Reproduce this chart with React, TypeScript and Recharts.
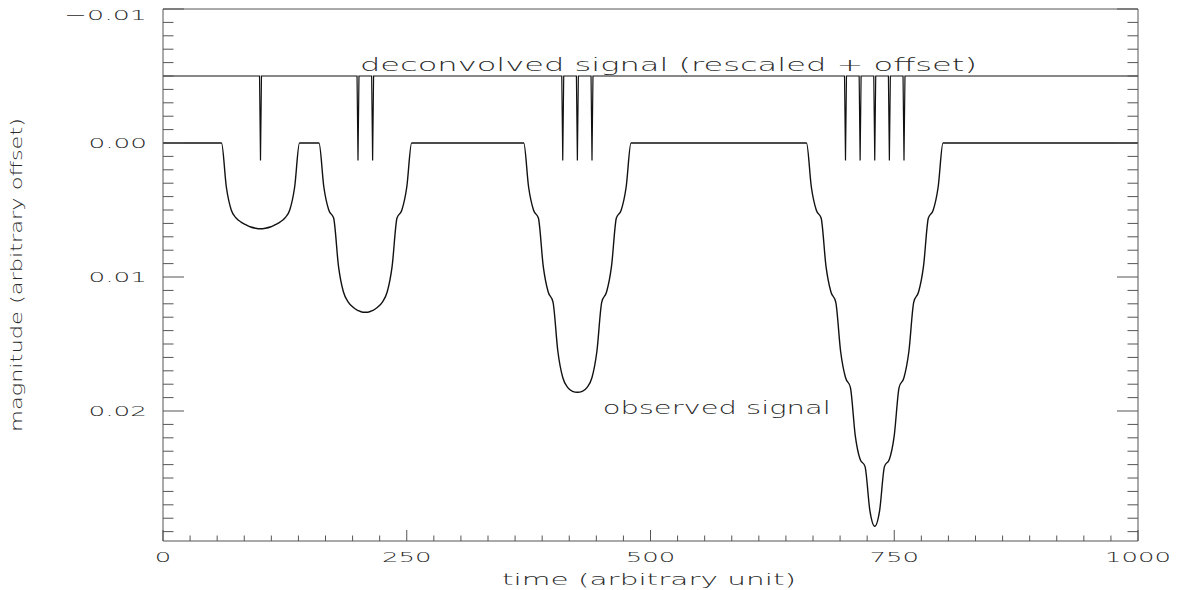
import { LineChart, Line, XAxis, YAxis, ReferenceDot } from "recharts";

const W = 1192;
const H = 590;
const AXIS = "#555";
const INK = "#111";
const FONT = "'DejaVu Sans', sans-serif";

// observed signal (time, magnitude), every 5 units inside the dips
const obsTime = [
  0,
  60, 65, 70, 75, 80, 85, 90, 95, 100, 105, 110, 115, 120, 125, 130, 135, 140,
  160, 165, 170, 175, 180, 185, 190, 195, 200, 205, 210, 215, 220, 225, 230, 235, 240, 245, 250, 255,
  370, 375, 380, 385, 390, 395, 400, 405, 410, 415, 420, 425, 430, 435, 440, 445, 450, 455, 460, 465, 470, 475, 480,
  660, 665, 670, 675, 680, 685, 690, 695, 700, 705, 710, 715, 720, 725, 730, 735, 740, 745, 750, 755, 760, 765, 770, 775, 780, 785, 790, 795, 800,
  1000,
];
const obsMag = [
  0,
  0, 0.0033, 0.005, 0.0056, 0.0059, 0.0061, 0.00627, 0.00636, 0.0064, 0.00636, 0.00627, 0.0061, 0.0059, 0.0056, 0.005, 0.0033, 0,
  0, 0.0033, 0.005, 0.0056, 0.0092, 0.0111, 0.01187, 0.01226, 0.0125, 0.01263, 0.01263, 0.0125, 0.01226, 0.01187, 0.0111, 0.0092, 0.0056, 0.005, 0.0033, 0,
  0, 0.0033, 0.005, 0.0056, 0.0092, 0.0111, 0.01187, 0.01556, 0.0175, 0.01823, 0.01853, 0.0186, 0.01853, 0.01823, 0.0175, 0.01556, 0.01187, 0.0111, 0.0092, 0.0056, 0.005, 0.0033, 0,
  0, 0.0033, 0.005, 0.0056, 0.0092, 0.0111, 0.01187, 0.01556, 0.0175, 0.01823, 0.02183, 0.0236, 0.02413, 0.02743, 0.0286, 0.02743, 0.02413, 0.0236, 0.02183, 0.01823, 0.0175, 0.01556, 0.01187, 0.0111, 0.0092, 0.0056, 0.005, 0.0033, 0,
  0,
];

// deconvolved signal: flat baseline with narrow spikes
const deconTime = [
  0,
  99, 100, 101,
  199, 200, 201, 214, 215, 216,
  409, 410, 411, 424, 425, 426, 439, 440, 441,
  699, 700, 701, 714, 715, 716, 729, 730, 731, 744, 745, 746, 759, 760, 761,
  1000,
];
const deconMag = [
  -0.005,
  -0.005, 0.0013, -0.005,
  -0.005, 0.0013, -0.005, -0.005, 0.0013, -0.005,
  -0.005, 0.0013, -0.005, -0.005, 0.0013, -0.005, -0.005, 0.0013, -0.005,
  -0.005, 0.0013, -0.005, -0.005, 0.0013, -0.005, -0.005, 0.0013, -0.005, -0.005, 0.0013, -0.005, -0.005, 0.0013, -0.005,
  -0.005,
];

const xMajor = [0, 250, 500, 750, 1000];
const yMajor = [-0.01, 0, 0.01, 0.02];

const observed = obsTime.map((t, i) => ({ t, mag: obsMag[i] }));
const decon = deconTime.map((t, i) => ({ t, mag: deconMag[i] }));

// IDL style: 9 minor divisions on x, 10 on y
const xTicks = Array.from({ length: 37 }, (_, i) => (i * 250) / 9);
const yTicks = Array.from({ length: 40 }, (_, i) => (i - 10) / 1000);

const isMajorX = (v: number) => xMajor.some((m) => Math.abs(m - v) < 1e-6);
const isMajorY = (v: number) => yMajor.some((m) => Math.abs(m - v) < 1e-9);

const labelWidth = (s: string) =>
  s.split("").reduce((w, c) => w + (c === "." ? 9 : c === "\u2212" ? 24 : 16.5), 0);

const WideText = ({ x, y, text, width, size = 14, anchor = "middle", transform }: any) => (
  <text
    x={x}
    y={y}
    textAnchor={anchor}
    textLength={width}
    lengthAdjust="spacingAndGlyphs"
    fontFamily={FONT}
    fontSize={size}
    fontWeight={200}
    fill="#2a2a2a"
    transform={transform}
  >
    {text}
  </text>
);

const BottomTick = ({ x, y, payload }: any) => {
  const major = isMajorX(payload.value);
  const label = String(Math.round(payload.value));
  return (
    <g>
      <line x1={x} y1={y} x2={x} y2={y - (major ? 11 : 5.5)} stroke={AXIS} />
      {major && <WideText x={x} y={y + 21} text={label} width={labelWidth(label)} />}
    </g>
  );
};

const TopTick = ({ x, y, payload }: any) => {
  const major = isMajorX(payload.value);
  return <line x1={x} y1={y} x2={x} y2={y + (major ? 11 : 5.5)} stroke={AXIS} />;
};

const LeftTick = ({ x, y, payload }: any) => {
  const major = isMajorY(payload.value);
  const label = payload.value.toFixed(2).replace("-", "\u2212");
  return (
    <g>
      <line x1={x} y1={y} x2={x + (major ? 21 : 10.5)} y2={y} stroke={AXIS} />
      {major && (
        <WideText x={x - 16} y={Math.max(y, 15) + 5} text={label} width={labelWidth(label)} anchor="end" />
      )}
    </g>
  );
};

const RightTick = ({ x, y, payload }: any) => {
  const major = isMajorY(payload.value);
  return <line x1={x} y1={y} x2={x - (major ? 21 : 10.5)} y2={y} stroke={AXIS} />;
};

export default function App() {
  return (
    <div style={{ position: "absolute", left: 0, top: 0, width: W, height: H, background: "#fff" }}>
      <LineChart width={W} height={H} margin={{ top: 8, right: 53, bottom: 48, left: 162 }}>
        <XAxis
          xAxisId="bottom"
          dataKey="t"
          type="number"
          domain={[0, 1000]}
          allowDataOverflow
          ticks={xTicks}
          interval={0}
          height={1}
          tickSize={0}
          tickMargin={0}
          tick={(p: any) => <BottomTick {...p} />}
          stroke={AXIS}
        />
        <XAxis
          xAxisId="top"
          orientation="top"
          type="number"
          domain={[0, 1000]}
          allowDataOverflow
          ticks={xTicks}
          interval={0}
          height={1}
          tickSize={0}
          tickMargin={0}
          tick={(p: any) => <TopTick {...p} />}
          stroke={AXIS}
        />
        <YAxis
          yAxisId="left"
          type="number"
          reversed
          domain={[-0.01, 0.0297]}
          allowDataOverflow
          ticks={yTicks}
          interval={0}
          width={1}
          tickSize={0}
          tickMargin={0}
          tick={(p: any) => <LeftTick {...p} />}
          stroke={AXIS}
        />
        <YAxis
          yAxisId="right"
          orientation="right"
          type="number"
          reversed
          domain={[-0.01, 0.0297]}
          allowDataOverflow
          ticks={yTicks}
          interval={0}
          width={1}
          tickSize={0}
          tickMargin={0}
          tick={(p: any) => <RightTick {...p} />}
          stroke={AXIS}
        />
        <Line
          xAxisId="bottom"
          yAxisId="left"
          data={decon}
          dataKey="mag"
          type="linear"
          dot={false}
          stroke={INK}
          strokeWidth={1.2}
          isAnimationActive={false}
        />
        <Line
          xAxisId="bottom"
          yAxisId="left"
          data={observed}
          dataKey="mag"
          type="monotone"
          dot={false}
          stroke={INK}
          strokeWidth={1.4}
          isAnimationActive={false}
        />
        <ReferenceDot
          xAxisId="bottom"
          yAxisId="left"
          x={202}
          y={-0.0054}
          r={0}
          shape={(p: any) => (
            <WideText x={p.cx} y={p.cy} text="deconvolved signal (rescaled + offset)" width={617} size={17} anchor="start" />
          )}
        />
        <ReferenceDot
          xAxisId="bottom"
          yAxisId="left"
          x={451}
          y={0.0202}
          r={0}
          shape={(p: any) => (
            <WideText x={p.cx} y={p.cy} text="observed signal" width={228} size={17} anchor="start" />
          )}
        />
      </LineChart>
      <svg width={W} height={H} style={{ position: "absolute", left: 0, top: 0, pointerEvents: "none" }}>
        <WideText x={649} y={585} text="time (arbitrary unit)" width={294} size={16} />
        <WideText
          x={0}
          y={0}
          text="magnitude (arbitrary offset)"
          width={314}
          size={15}
          transform="translate(22,275) rotate(-90)"
        />
      </svg>
    </div>
  );
}
